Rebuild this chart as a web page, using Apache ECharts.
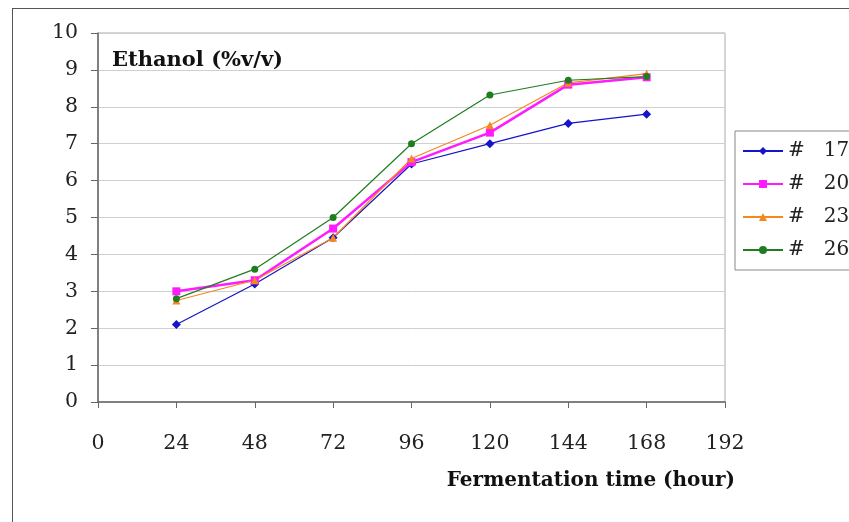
<!DOCTYPE html>
<html><head><meta charset="utf-8">
<script src="https://cdn.jsdelivr.net/npm/echarts@6/dist/echarts.min.js"></script>
<style>html,body{margin:0;padding:0;background:#fff}#c{width:849px;height:522px}
#frame{position:absolute;left:12px;top:8px;width:900px;height:600px;border:1.5px solid #555;box-sizing:border-box;pointer-events:none}</style>
</head><body><div id="frame"></div><div id="c"></div>
<script>
const hours = [24, 48, 72, 96, 120, 144, 168];
const seriesNames = ['#\u00a0\u00a0 17', '#\u00a0\u00a0 20', '#\u00a0\u00a0 23', '#\u00a0\u00a0 26'];
const s17 = [2.1, 3.2, 4.45, 6.45, 7.0, 7.55, 7.8];
const s20 = [3.0, 3.3, 4.7, 6.5, 7.3, 8.6, 8.8];
const s23 = [2.75, 3.3, 4.45, 6.6, 7.5, 8.65, 8.9];
const s26 = [2.8, 3.6, 5.0, 7.0, 8.32, 8.72, 8.82];
const yTitle = 'Ethanol (%v/v)';
const xTitle = 'Fermentation time (hour)';

const font = 'DejaVu Serif';
const pair = arr => hours.map((h, i) => [h, arr[i]]);
const mk = (name, data, color, symbol, size, width) => ({
  name, type: 'line', data: pair(data), symbol, symbolSize: size,
  itemStyle: { color }, lineStyle: { color, width }, z: 3
});
const chart = echarts.init(document.getElementById('c'));
chart.setOption({
  animation: false,
  backgroundColor: 'transparent',
  title: [
    { text: yTitle, left: 107, top: 45, textStyle: { fontFamily: font, fontSize: 21, fontWeight: 'bold', color: '#111' } },
    { text: xTitle, right: 109, top: 466, textStyle: { fontFamily: font, fontSize: 20, fontWeight: 'bold', color: '#111' } }
  ],
  grid: { left: 98, right: 124, top: 33, bottom: 120, show: true, borderColor: '#aaa', borderWidth: 1 },
  legend: {
    orient: 'vertical', left: 735, top: 131,
    borderColor: '#888', borderWidth: 1, padding: [10, 60, 10, 7],
    itemGap: 13, itemWidth: 40, itemHeight: 10,
    textStyle: { fontFamily: font, fontSize: 20, color: '#222' },
    data: seriesNames
  },
  xAxis: {
    type: 'value', min: 0, max: 192, interval: 24,
    axisLine: { show: true, lineStyle: { color: '#666', width: 1.5 } },
    axisTick: { show: true, length: 6, inside: false, lineStyle: { color: '#666' } },
    axisLabel: { fontFamily: font, fontSize: 20.5, color: '#222', margin: 31 },
    splitLine: { show: false }
  },
  yAxis: {
    type: 'value', min: 0, max: 10, interval: 1,
    axisLine: { show: true, lineStyle: { color: '#666', width: 1.5 } },
    axisTick: { show: true, length: 7, lineStyle: { color: '#666' } },
    axisLabel: { fontFamily: font, fontSize: 20.5, color: '#222', margin: 20 },
    splitLine: { show: true, lineStyle: { color: '#cfcfcf', width: 1 } }
  },
  series: [
    mk(seriesNames[0], s17, '#1414c8', 'diamond', 9, 1.2),
    mk(seriesNames[1], s20, '#ff1aff', 'rect', 8, 2.5),
    mk(seriesNames[2], s23, '#f7861f', 'triangle', 8, 1.2),
    mk(seriesNames[3], s26, '#1f7d1f', 'circle', 7, 1.2)
  ]
});
</script></body></html>
